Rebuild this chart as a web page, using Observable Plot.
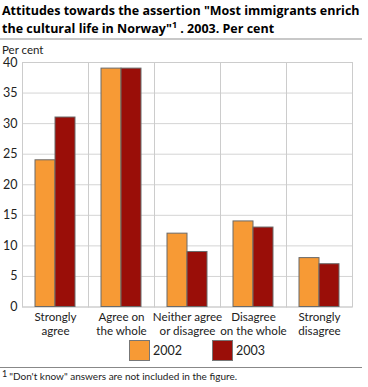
<!DOCTYPE html>
<html><head><meta charset="utf-8">
<script src="https://cdn.jsdelivr.net/npm/d3@7"></script>
<script src="https://cdn.jsdelivr.net/npm/@observablehq/plot@0.6"></script>
<style>
body{margin:0;background:#fff;font-family:"Open Sans",sans-serif;color:#222}
#wrap{position:relative;width:368px;height:387px;overflow:hidden}
#chart{position:absolute;left:0;top:0}
.title{position:absolute;left:2px;top:2px;font-weight:bold;font-size:12.5px;line-height:18px;color:#000;white-space:nowrap}
.title sup{font-size:9px;vertical-align:5px;line-height:0}
.sep{position:absolute;left:0;top:38px;width:362px;height:2px;background:#c8c8c8}
.unit{position:absolute;left:2px;top:43px;font-size:11.5px;font-family:Lato,sans-serif;color:#222}
.legend{position:absolute;top:340px;height:21px;font-size:12.5px;font-family:Lato,sans-serif;display:flex;align-items:center}
.sw{width:19px;height:19px;border:1px solid #777;margin-right:3px}
.fline{position:absolute;left:0;top:367px;width:362px;height:1px;background:#888}
.foot{position:absolute;left:2px;top:370px;font-size:10px;font-family:Lato,sans-serif;color:#222;white-space:nowrap}
.foot sup{font-size:9px;vertical-align:3px;line-height:0;margin-right:2px}
</style></head><body><div id="wrap">
<div id="chart"></div>
<div class="title">Attitudes towards the assertion "Most immigrants enrich<br>the cultural life in Norway"<sup>1</sup> . 2003. Per cent</div>
<div class="sep"></div>
<div class="unit">Per cent</div>
<div id="leg"></div>
<div class="fline"></div>
<div class="foot"><sup>1</sup>"Don't know" answers are not included in the figure.</div>
</div>
<script>
const categories = ["Strongly agree","Agree on the whole","Neither agree or disagree","Disagree on the whole","Strongly disagree"];
const tickLabels = ["Strongly\nagree","Agree on\nthe whole","Neither agree\nor disagree","Disagree\non the whole","Strongly\ndisagree"];
const years = ["2002","2003"];
const values2002 = [24,39,12,14,8];
const values2003 = [31,39,9,13,7];
const yTicks = [0,5,10,15,20,25,30,35,40];
const colors = ["#f79a35","#9a0e08"];

const data = [];
categories.forEach((c,i)=>{
  data.push({category:c, year:years[0], value:values2002[i]});
  data.push({category:c, year:years[1], value:values2003[i]});
});

const plot = Plot.plot({
  width:368, height:387,
  marginLeft:22, marginRight:16, marginTop:62, marginBottom:80.5,
  style:{fontFamily:"Lato, sans-serif", fontSize:"12px", color:"#222", background:"transparent"},
  fx:{domain:categories, padding:0, label:null},
  x:{domain:years, paddingInner:0, paddingOuter:0.65, axis:null},
  y:{domain:[0,40], label:null},
  color:{domain:years, range:colors},
  marks:[
    Plot.gridY(yTicks,{stroke:"#d4d4d4", strokeOpacity:1}),
    Plot.frame({stroke:"#cccccc"}),
    Plot.barY(data,{fx:"category", x:"year", y:"value", fill:"year", stroke:"#6a6a6a", strokeWidth:1}),
    Plot.axisY(yTicks,{tickSize:0, tickPadding:5, label:null, fontSize:12.5}),
    Plot.axisFx({anchor:"bottom", tickSize:0, tickPadding:5, label:null, fontSize:11.6, lineHeight:1.15,
      tickFormat:c=>tickLabels[categories.indexOf(c)]})
  ]
});
document.getElementById("chart").appendChild(plot);

const leg = document.getElementById("leg");
const legX = [129, 212];
years.forEach((y,i)=>{
  const d = document.createElement("div");
  d.className="legend";
  d.style.left = legX[i]+"px";
  d.innerHTML = `<div class="sw" style="background:${colors[i]}"></div><span>${y}</span>`;
  leg.appendChild(d);
});
</script>
</body></html>
